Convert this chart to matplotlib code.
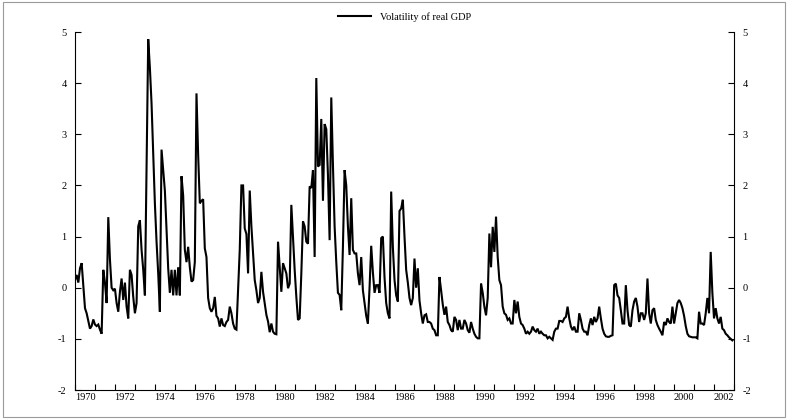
import numpy as np
import matplotlib
matplotlib.use("Agg")
import matplotlib.pyplot as plt
from matplotlib.patches import Rectangle

# Monthly volatility of real GDP, Jan 1970 onwards, one list per decade
vol_1970s = [
    0.15, 0.25, 0.10, 0.38, 0.48, 0.05, -0.40, -0.50, -0.65, -0.80,
    -0.75, -0.62, -0.72, -0.75, -0.72, -0.82, -0.90, 0.35, 0.10, -0.30,
    1.38, 0.55, 0.00, -0.05, -0.02, -0.30, -0.47, -0.08, 0.18, -0.24,
    0.10, -0.37, -0.60, 0.35, 0.25, -0.18, -0.50, -0.30, 1.20, 1.32,
    0.74, 0.35, -0.15, 2.30, 4.86, 4.30, 3.60, 2.60, 1.65, 0.90,
    0.28, -0.47, 2.70, 2.30, 1.90, 1.13, 0.38, -0.10, 0.35, -0.15,
    0.35, -0.15, 0.40, -0.15, 2.18, 1.80, 0.74, 0.50, 0.80, 0.40,
    0.12, 0.15, 0.50, 3.80, 2.60, 1.65, 1.70, 1.73, 0.77, 0.60,
    -0.20, -0.40, -0.47, -0.40, -0.18, -0.55, -0.60, -0.76, -0.60, -0.73,
    -0.75, -0.67, -0.63, -0.37, -0.50, -0.70, -0.80, -0.82, -0.05, 0.74,
    2.00, 2.00, 1.16, 1.05, 0.28, 1.90, 1.20, 0.67, 0.15, -0.05,
    -0.30, -0.20, 0.31, -0.08, -0.30, -0.53, -0.66, -0.87, -0.70, -0.86,
]
vol_1980s = [
    -0.90, -0.91, 0.90, 0.40, -0.08, 0.48, 0.38, 0.28, -0.01, 0.08,
    1.62, 1.00, 0.35, -0.18, -0.63, -0.60, 0.28, 1.30, 1.20, 0.90,
    0.86, 1.98, 1.95, 2.30, 0.60, 4.10, 2.37, 2.40, 3.30, 1.70,
    3.20, 3.10, 2.20, 0.93, 3.72, 2.40, 1.20, 0.50, -0.10, -0.14,
    -0.44, 0.80, 2.30, 2.00, 1.20, 0.64, 1.75, 0.74, 0.67, 0.67,
    0.28, 0.05, 0.60, -0.05, -0.30, -0.55, -0.70, 0.00, 0.82, 0.30,
    -0.10, 0.05, 0.05, -0.10, 0.97, 1.00, 0.20, -0.30, -0.50, -0.60,
    1.88, 0.80, 0.15, -0.15, -0.27, 1.50, 1.55, 1.72, 1.00, 0.35,
    0.10, -0.20, -0.34, -0.20, 0.57, 0.00, 0.38, -0.25, -0.50, -0.70,
    -0.54, -0.52, -0.67, -0.67, -0.70, -0.80, -0.83, -0.93, -0.93, 0.21,
    -0.05, -0.33, -0.53, -0.37, -0.67, -0.73, -0.83, -0.86, -0.57, -0.63,
    -0.83, -0.63, -0.80, -0.80, -0.63, -0.70, -0.83, -0.88, -0.67, -0.80,
]
vol_1990s = [
    -0.90, -0.96, -0.99, -0.99, 0.08, -0.10, -0.37, -0.54, -0.20, 1.06,
    0.40, 1.19, 0.70, 1.39, 0.60, 0.15, 0.05, -0.37, -0.50, -0.53,
    -0.63, -0.60, -0.70, -0.70, -0.24, -0.50, -0.27, -0.57, -0.70, -0.73,
    -0.80, -0.90, -0.86, -0.90, -0.86, -0.76, -0.83, -0.86, -0.80, -0.90,
    -0.86, -0.90, -0.93, -0.93, -0.99, -0.96, -0.99, -1.02, -0.86, -0.80,
    -0.80, -0.65, -0.65, -0.67, -0.60, -0.57, -0.37, -0.60, -0.76, -0.83,
    -0.76, -0.86, -0.86, -0.50, -0.63, -0.80, -0.86, -0.86, -0.93, -0.73,
    -0.60, -0.73, -0.57, -0.67, -0.60, -0.37, -0.60, -0.80, -0.90, -0.95,
    -0.96, -0.96, -0.94, -0.93, 0.05, 0.08, -0.15, -0.20, -0.44, -0.70,
    -0.70, 0.05, -0.44, -0.73, -0.76, -0.44, -0.27, -0.20, -0.37, -0.67,
    -0.50, -0.50, -0.63, -0.50, 0.18, -0.50, -0.70, -0.44, -0.40, -0.63,
    -0.73, -0.80, -0.86, -0.93, -0.67, -0.73, -0.60, -0.67, -0.70, -0.37,
]
vol_2000s = [
    -0.70, -0.50, -0.30, -0.24, -0.30, -0.40, -0.55, -0.75, -0.90, -0.95,
    -0.96, -0.97, -0.97, -0.97, -0.99, -0.47, -0.70, -0.70, -0.73, -0.50,
    -0.20, -0.50, 0.70, -0.10, -0.60, -0.40, -0.60, -0.70, -0.57, -0.80,
    -0.83, -0.90, -0.93, -0.97, -1.00, -1.03,
]

start_year = 1970
year_labels = list(range(1970, 2003, 2))
y_ticks = [-2, -1, 0, 1, 2, 3, 4, 5]

values = np.array(vol_1970s + vol_1980s + vol_1990s + vol_2000s)
dates = start_year + np.arange(len(values)) / 12.0

plt.rcParams["font.family"] = ["Liberation Serif", "DejaVu Serif"]

fig = plt.figure(figsize=(7.88, 4.19), dpi=100)
# outer frame around the whole graphic
fig.patches.append(Rectangle((0.004, 0.004), 0.992, 0.992, transform=fig.transFigure,
                             fill=False, edgecolor="#9a9a9a", linewidth=0.8))

ax = fig.add_axes([75 / 788, 1 - 390 / 419, 659 / 788, 358 / 419])
ax.plot(dates, values, color="black", linewidth=1.5, label="Volatility of real GDP",
        solid_joinstyle="miter")

ax.set_xlim(1970, 2003)
ax.set_ylim(-2, 5)

for side in ["top"]:
    ax.spines[side].set_visible(False)
for side in ["left", "right", "bottom"]:
    ax.spines[side].set_linewidth(0.8)

# yearly tick marks, labels centred on every second year
ax.set_xticks(np.arange(1970, 2004, 1))
ax.set_xticklabels([])
ax.set_xticks([y + 0.5 for y in year_labels], minor=True)
ax.set_xticklabels([str(y) for y in year_labels], minor=True)
ax.tick_params(axis="x", which="major", direction="in", length=4, width=0.8)
ax.tick_params(axis="x", which="minor", length=0, labelsize=7.5, pad=2)

ax.set_yticks(y_ticks)
ax.set_yticklabels([str(v) for v in y_ticks])
ax.tick_params(axis="y", which="both", direction="in", length=4, width=0.8,
               labelsize=7.5, left=True, right=True, labelleft=True, labelright=True, pad=6)

ax.legend(loc="lower center", bbox_to_anchor=(0.5, 1.0), frameon=False, fontsize=7.5,
          handlelength=3.2, borderaxespad=0.6)

fig.savefig("out.png", dpi=100)
